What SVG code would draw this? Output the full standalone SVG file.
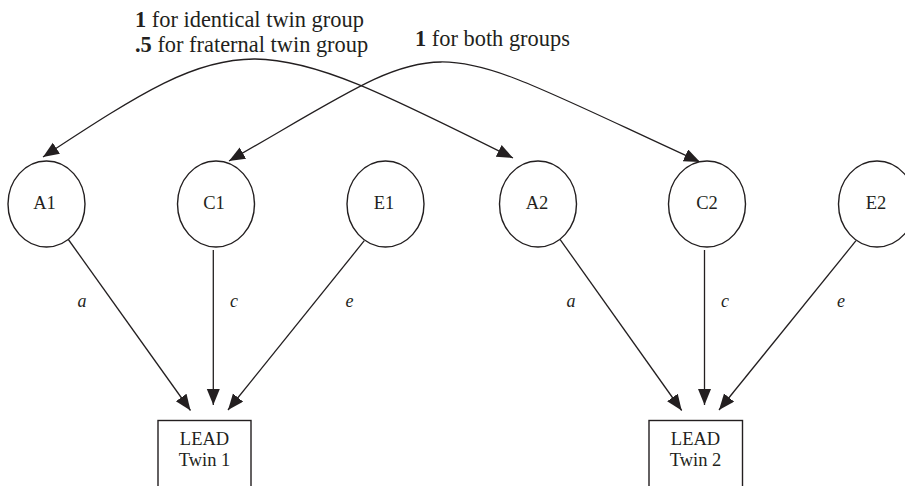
<svg xmlns="http://www.w3.org/2000/svg" width="905" height="486" viewBox="0 0 905 486">
<style>
.n{fill:#fff;stroke:#231f20;stroke-width:1.4}
.t{font-family:"Liberation Serif","Times New Roman",serif;font-size:18.5px;fill:#231f20;text-anchor:middle}
.lab{font-family:"Liberation Serif","Times New Roman",serif;font-size:18px;font-style:italic;fill:#231f20;text-anchor:middle}
.top{font-family:"Liberation Serif","Times New Roman",serif;font-size:22.4px;fill:#231f20}
.e{fill:none;stroke:#231f20;stroke-width:1.3;marker-end:url(#ah)}
.d{marker-start:url(#ah2)}
</style>
<defs>
<marker id="ah" markerUnits="userSpaceOnUse" markerWidth="18" markerHeight="15" refX="16" refY="6.5" orient="auto">
<path d="M0,0 L16,6.5 L0,13 z" fill="#231f20"/>
</marker>
<marker id="ah2" markerUnits="userSpaceOnUse" markerWidth="18" markerHeight="15" refX="16" refY="6.5" orient="auto-start-reverse">
<path d="M0,0 L16,6.5 L0,13 z" fill="#231f20"/>
</marker>
</defs>
<g id="connectors">
<path class="e d" d="M513,158 C251.4,27.2 243.3,25.1 43,157"/>
<path class="e d" d="M700,162 C410.9,29.8 460.8,27.8 229,161"/>
<line class="e" x1="68" y1="239" x2="190.5" y2="410.5"/>
<line class="e" x1="213.3" y1="250" x2="213.3" y2="405"/>
<line class="e" x1="364.3" y1="240.7" x2="228" y2="410"/>
<line class="e" x1="560" y1="239.3" x2="681.7" y2="410.5"/>
<line class="e" x1="704.5" y1="250" x2="704.5" y2="405"/>
<line class="e" x1="856" y1="240.7" x2="719" y2="410"/>
</g>
<g id="A1"><ellipse class="n" cx="46.5" cy="204" rx="38.5" ry="43"/><text class="t" x="44.5" y="209">A1</text></g>
<g id="C1"><ellipse class="n" cx="216" cy="204" rx="38.5" ry="43"/><text class="t" x="214" y="209">C1</text></g>
<g id="E1"><ellipse class="n" cx="385.5" cy="204" rx="38.5" ry="43"/><text class="t" x="384" y="209">E1</text></g>
<g id="A2"><ellipse class="n" cx="538" cy="204" rx="38.5" ry="43"/><text class="t" x="537" y="209">A2</text></g>
<g id="C2"><ellipse class="n" cx="707" cy="204" rx="38.5" ry="43"/><text class="t" x="707" y="209">C2</text></g>
<g id="E2"><ellipse class="n" cx="877" cy="204" rx="38.5" ry="43"/><text class="t" x="876" y="209">E2</text></g>
<g id="Twin1"><rect class="n" x="158" y="420.5" width="93" height="80"/><text class="t" x="204.5" y="445">LEAD</text><text class="t" x="204.5" y="466">Twin 1</text></g>
<g id="Twin2"><rect class="n" x="649" y="420.5" width="93.5" height="80"/><text class="t" x="695.5" y="445">LEAD</text><text class="t" x="695.5" y="466">Twin 2</text></g>
<g id="labels">
<text class="lab" x="82" y="307">a</text>
<text class="lab" x="234" y="307">c</text>
<text class="lab" x="349.5" y="307">e</text>
<text class="lab" x="571" y="307">a</text>
<text class="lab" x="725" y="307">c</text>
<text class="lab" x="841" y="307">e</text>
<text class="top" x="135" y="27"><tspan font-weight="bold">1</tspan> for identical twin group</text>
<text class="top" x="135" y="52"><tspan font-weight="bold">.5</tspan> for fraternal twin group</text>
<text class="top" x="415" y="46"><tspan font-weight="bold">1</tspan> for both groups</text>
</g>
</svg>
